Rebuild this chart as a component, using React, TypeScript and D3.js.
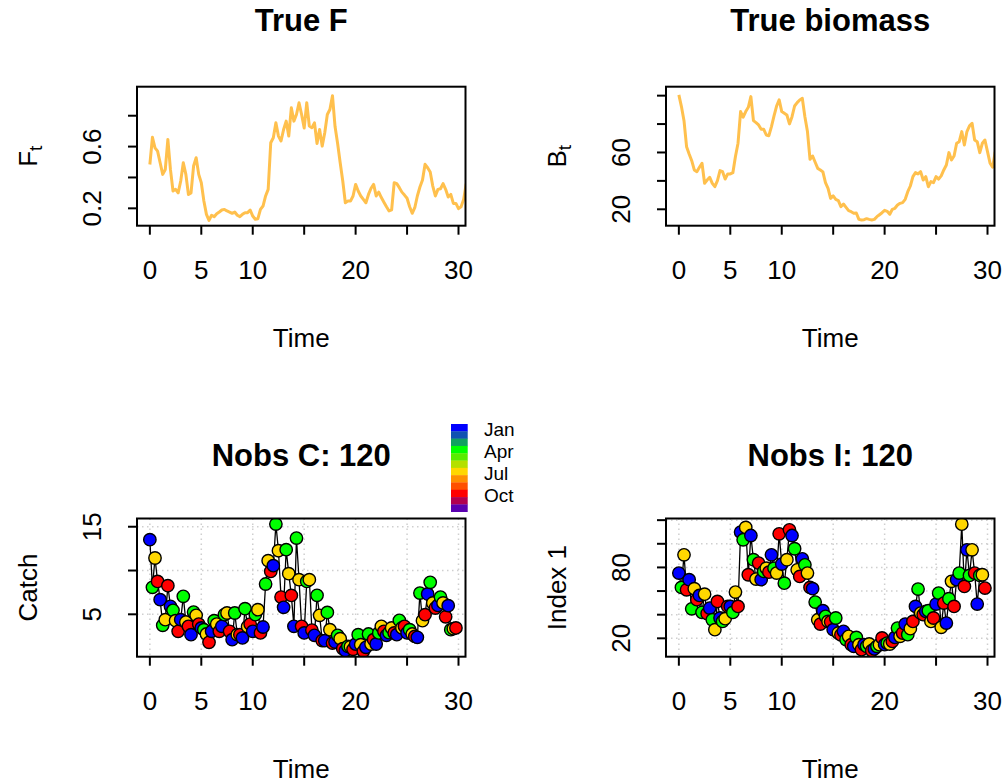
import React from "react";
import * as d3 from "d3";

// ---------------- data ----------------
const TRUE_STEP = 0.25; // time step of the true-value series
const trueF = [
  0.484, 0.66, 0.592, 0.571, 0.495, 0.42, 0.452, 0.646, 0.452, 0.312, 0.323, 0.3,
  0.377, 0.495, 0.42, 0.29, 0.3, 0.474, 0.528, 0.42, 0.366, 0.247, 0.161, 0.122,
  0.155, 0.146, 0.165, 0.176, 0.189, 0.193, 0.183, 0.176, 0.168, 0.176, 0.155, 0.146,
  0.161, 0.172, 0.172, 0.189, 0.15, 0.129, 0.133, 0.193, 0.215, 0.28, 0.323, 0.625,
  0.657, 0.754, 0.668, 0.636, 0.711, 0.765, 0.668, 0.851, 0.765, 0.808, 0.884, 0.808,
  0.72, 0.884, 0.733, 0.722, 0.754, 0.62, 0.711, 0.603, 0.69, 0.808, 0.84, 0.93,
  0.73, 0.62, 0.495, 0.377, 0.236, 0.247, 0.247, 0.28, 0.355, 0.312, 0.28, 0.258,
  0.236, 0.29, 0.33, 0.355, 0.28, 0.305, 0.27, 0.24, 0.21, 0.183, 0.19, 0.366,
  0.36, 0.334, 0.305, 0.286, 0.265, 0.21, 0.168, 0.204, 0.28, 0.338, 0.383, 0.485,
  0.463, 0.435, 0.344, 0.28, 0.323, 0.327, 0.36, 0.323, 0.273, 0.29, 0.232, 0.232,
  0.198, 0.21, 0.258, 0.36,
];
const trueB = [
  100.5, 92.3, 82.4, 64.1, 58.9, 54.2, 47.7, 46.5, 49.6, 52.4, 38.3, 40.6,
  42.5, 38.3, 35.9, 40.2, 47.2, 46.5, 41.3, 44.9, 44.9, 45.8, 57.1, 66.5,
  88.8, 84.8, 88.8, 91.8, 99.3, 82.4, 81.0, 79.4, 76.3, 76.3, 72.3, 71.8,
  78.2, 85.7, 92.7, 97.0, 88.8, 87.6, 86.4, 80.1, 85.2, 92.7, 95.1, 97.0,
  98.1, 85.2, 74.7, 55.2, 57.5, 53.1, 48.8, 47.7, 46.3, 38.8, 34.8, 27.7,
  29.4, 27.0, 26.1, 21.9, 23.7, 21.4, 19.0, 18.3, 17.2, 17.4, 12.9, 12.5,
  12.7, 13.4, 12.9, 12.5, 12.9, 14.8, 16.2, 17.6, 19.3, 18.6, 16.5, 20.0,
  20.7, 23.0, 24.2, 24.7, 27.0, 32.4, 36.4, 43.0, 45.8, 44.9, 46.5, 40.6,
  43.0, 35.9, 39.5, 38.8, 43.0, 41.3, 43.5, 47.7, 51.2, 59.9, 54.7, 57.5,
  66.5, 67.6, 74.7, 65.3, 74.7, 78.7, 80.5, 68.8, 67.6, 59.9, 66.5, 68.8,
  60.6, 52.4, 49.6, 60.6,
];

const OBS_STEP = 0.25; // quarterly observations
const obsCatch = [
  13.52, 8.08, 11.43, 8.76, 6.67, 3.74, 4.39, 8.27, 5.91, 5.45, 4.27, 3.06,
  4.39, 7.05, 4.12, 3.63, 2.68, 5.26, 4.88, 3.89, 3.44, 3.25, 2.75, 1.8,
  3.06, 4.27, 3.89, 3.06, 3.63, 4.96, 5.15, 3.06, 2.1, 5.15, 2.68, 2.68,
  2.3, 5.64, 3.6, 3.89, 3.06, 4.96, 5.53, 2.87, 3.55, 8.46, 11.12, 9.9,
  10.55, 15.31, 12.26, 6.97, 5.8, 12.38, 9.64, 7.16, 3.63, 13.71, 8.95, 3.63,
  2.87, 8.76, 8.95, 3.2, 2.6, 7.17, 4.88, 2.0, 1.99, 5.22, 3.25, 1.72,
  1.84, 2.6, 2.22, 1.08, 0.85, 1.34, 1.3, 1.0, 1.6, 2.68, 1.53, 0.77,
  1.23, 2.75, 1.61, 2.1, 1.61, 2.87, 3.63, 3.06, 2.6, 2.9, 3.44, 2.87,
  2.68, 4.31, 3.44, 3.63, 2.87, 3.25, 2.75, 2.48, 2.37, 7.43, 4.27, 4.96,
  7.32, 8.65, 6.29, 5.72, 6.02, 6.97, 6.3, 4.72, 5.99, 3.25, 3.36, 3.44,
];
const obsIndex = [
  75.2, 63.1, 90.7, 61.1, 69.6, 45.0, 62.0, 52.7, 56.3, 42.0, 57.4, 41.0,
  45.6, 35.7, 27.3, 51.2, 37.2, 34.3, 36.6, 47.0, 47.0, 41.9, 59.1, 47.0,
  109.9, 103.4, 113.8, 73.8, 107.0, 86.5, 70.1, 83.7, 69.6, 76.6, 79.4, 76.0,
  90.7, 79.4, 75.2, 108.4, 82.8, 66.7, 86.5, 111.8, 107.0, 95.8, 78.0, 72.4,
  87.3, 82.2, 75.2, 63.1, 62.0, 50.7, 35.7, 32.1, 43.4, 38.6, 34.3, 34.0,
  27.3, 37.2, 24.5, 23.0, 25.9, 19.0, 21.7, 14.6, 13.2, 20.8, 14.6, 10.4,
  14.6, 13.2, 15.2, 9.5, 11.0, 13.2, 14.6, 20.3, 14.6, 16.0, 15.2, 17.4,
  20.8, 28.7, 21.7, 24.5, 32.1, 23.1, 28.2, 34.3, 47.0, 61.7, 41.4, 40.0,
  42.8, 43.4, 34.3, 37.2, 49.0, 58.3, 29.3, 49.8, 32.9, 53.5, 68.2, 47.0,
  69.6, 75.2, 116.6, 63.9, 94.9, 73.2, 94.9, 75.2, 49.0, 73.2, 73.8, 62.5,
];

const monthColors = [
  "#0000FF", "#1052B2", "#10A060", "#00FF00", "#58EC00", "#B4E000",
  "#FFD700", "#FF9000", "#FF5000", "#FF0000", "#B00050", "#5A00B0",
];
const monthLabels = ["Jan", "Apr", "Jul", "Oct"];
const monthLabelIdx = [0, 3, 6, 9];

const xTicks = [0, 5, 10, 15, 20, 25, 30];
const xTickShown = [0, 5, 10, 20, 30];
const X_DOMAIN = [-1.25, 30.68];

const fTicks = [0.2, 0.4, 0.6, 0.8];
const fTickShown = [0.2, 0.6];
const F_DOMAIN = [0.0875, 0.988];
const bTicks = [20, 40, 60, 80, 100];
const bTickShown = [20, 60];
const B_DOMAIN = [8.45, 106.3];
const cTicks = [5, 10, 15];
const cTickShown = [5, 15];
const C_DOMAIN = [0.16, 15.94];
const iTicks = [20, 40, 60, 80, 100, 120];
const iTickShown = [20, 80];
const I_DOMAIN = [4.45, 121.4];

// ---------------- styling ----------------
const FONT = "'Liberation Sans', Arial, Helvetica, sans-serif";
const TICK_FS = 26;
const TITLE_FS = 31;
const TRUE_COL = "#FFC04D";
const GRID_COL = "#CFCFCF";

type Box = { l: number; r: number; t: number; b: number };

const boxTL: Box = { l: 137, r: 465.5, t: 86.7, b: 225.7 };
const boxTR: Box = { l: 666, r: 994.5, t: 86.7, b: 225.7 };
const boxBL: Box = { l: 137, r: 465.5, t: 518.5, b: 656.7 };
const boxBR: Box = { l: 666, r: 994.5, t: 518.5, b: 656.7 };

function Frame(props: {
  id: string;
  box: Box;
  yDomain: number[];
  yTicks: number[];
  yShown: number[];
  title: string;
  titleY: number;
  ylab: React.ReactNode;
  grid: boolean;
  children: (x: d3.ScaleLinear<number, number>, y: d3.ScaleLinear<number, number>) => React.ReactNode;
}) {
  const { id, box, yDomain, yTicks, yShown, title, titleY, ylab, grid } = props;
  const x = d3.scaleLinear().domain(X_DOMAIN).range([box.l, box.r]);
  const y = d3.scaleLinear().domain(yDomain).range([box.b, box.t]);
  const tick = 9;
  const cx = (box.l + box.r) / 2;
  const cy = (box.t + box.b) / 2;
  return (
    <g>
      <defs>
        <clipPath id={id}>
          <rect x={box.l} y={box.t} width={box.r - box.l} height={box.b - box.t} />
        </clipPath>
      </defs>
      {grid && (
        <g stroke={GRID_COL} strokeWidth={1.5} strokeDasharray="1.5 3.5">
          {xTicks.map((v) => (
            <line key={"gx" + v} x1={x(v)} x2={x(v)} y1={box.t} y2={box.b} />
          ))}
          {yTicks.map((v) => (
            <line key={"gy" + v} x1={box.l} x2={box.r} y1={y(v)} y2={y(v)} />
          ))}
        </g>
      )}
      <g clipPath={`url(#${id})`}>{props.children(x, y)}</g>
      <rect x={box.l} y={box.t} width={box.r - box.l} height={box.b - box.t} fill="none" stroke="#000" strokeWidth={2} />
      <g stroke="#000" strokeWidth={2}>
        {xTicks.map((v) => (
          <line key={"tx" + v} x1={x(v)} x2={x(v)} y1={box.b} y2={box.b + tick} />
        ))}
        {yTicks.map((v) => (
          <line key={"ty" + v} x1={box.l - tick} x2={box.l} y1={y(v)} y2={y(v)} />
        ))}
      </g>
      <g fontFamily={FONT} fontSize={TICK_FS} fill="#000">
        {xTickShown.map((v) => (
          <text key={"lx" + v} x={x(v)} y={box.b + 44.5} textAnchor="middle" dominantBaseline="central">
            {v}
          </text>
        ))}
        {yShown.map((v) => (
          <text
            key={"ly" + v}
            transform={`translate(${box.l - 45},${y(v)}) rotate(-90)`}
            textAnchor="middle"
            dominantBaseline="central"
          >
            {v}
          </text>
        ))}
        <text x={cx} y={box.b + 112} textAnchor="middle" dominantBaseline="central">
          Time
        </text>
        <text transform={`translate(${box.l - 109},${cy}) rotate(-90)`} textAnchor="middle" dominantBaseline="central">
          {ylab}
        </text>
      </g>
      <text
        x={cx}
        y={titleY}
        fontFamily={FONT}
        fontSize={TITLE_FS}
        fontWeight="bold"
        textAnchor="middle"
        dominantBaseline="central"
      >
        {title}
      </text>
    </g>
  );
}

function TrueLine(props: { values: number[]; x: any; y: any }) {
  const line = d3
    .line<number>()
    .x((_, i) => props.x(i * TRUE_STEP))
    .y((d) => props.y(d));
  return <path d={line(props.values) || ""} fill="none" stroke={TRUE_COL} strokeWidth={3} strokeLinejoin="round" />;
}

function ObsPoints(props: { values: number[]; x: any; y: any }) {
  const { values, x, y } = props;
  const line = d3
    .line<number>()
    .x((_, i) => x(i * OBS_STEP))
    .y((d) => y(d));
  return (
    <g>
      <path d={line(values) || ""} fill="none" stroke="#000" strokeWidth={1.3} />
      {values.map((v, i) => {
        const month = Math.round(((i * OBS_STEP) % 1) * 12);
        return (
          <circle
            key={i}
            cx={x(i * OBS_STEP)}
            cy={y(v)}
            r={6.2}
            fill={monthColors[month]}
            stroke="#000"
            strokeWidth={1.4}
          />
        );
      })}
    </g>
  );
}

function ColorBar() {
  const top = 424;
  const bottom = 511.7;
  const left = 451;
  const w = 16.7;
  const sc = d3.scaleBand<number>().domain(d3.range(monthColors.length)).range([top, bottom]);
  return (
    <g>
      {monthColors.map((c, i) => (
        <rect key={i} x={left} y={sc(i)} width={w} height={sc.bandwidth() + 0.3} fill={c} />
      ))}
      {monthLabels.map((m, k) => (
        <text
          key={m}
          x={484}
          y={(sc(monthLabelIdx[k]) as number) + sc.bandwidth() / 2 + 2}
          fontFamily={FONT}
          fontSize={19}
          dominantBaseline="central"
        >
          {m}
        </text>
      ))}
    </g>
  );
}

function Sub(props: { main: string; sub: string }) {
  return (
    <>
      <tspan>{props.main}</tspan>
      <tspan fontSize={19} dy={7}>
        {props.sub}
      </tspan>
    </>
  );
}

export default function App() {
  return (
    <div style={{ position: "absolute", left: 0, top: 0, width: 1004, height: 784, overflow: "hidden", background: "#fff" }}>
      <svg width={1004} height={784} viewBox="0 0 1004 784">
        <rect width={1004} height={784} fill="#fff" />
        <Frame
          id="cTL"
          box={boxTL}
          yDomain={F_DOMAIN}
          yTicks={fTicks}
          yShown={fTickShown}
          title="True F"
          titleY={20}
          ylab={<Sub main="F" sub="t" />}
          grid={false}
        >
          {(x, y) => <TrueLine values={trueF} x={x} y={y} />}
        </Frame>
        <Frame
          id="cTR"
          box={boxTR}
          yDomain={B_DOMAIN}
          yTicks={bTicks}
          yShown={bTickShown}
          title="True biomass"
          titleY={20}
          ylab={<Sub main="B" sub="t" />}
          grid={false}
        >
          {(x, y) => <TrueLine values={trueB} x={x} y={y} />}
        </Frame>
        <Frame
          id="cBL"
          box={boxBL}
          yDomain={C_DOMAIN}
          yTicks={cTicks}
          yShown={cTickShown}
          title="Nobs C: 120"
          titleY={455}
          ylab="Catch"
          grid={true}
        >
          {(x, y) => <ObsPoints values={obsCatch} x={x} y={y} />}
        </Frame>
        <Frame
          id="cBR"
          box={boxBR}
          yDomain={I_DOMAIN}
          yTicks={iTicks}
          yShown={iTickShown}
          title="Nobs I: 120"
          titleY={455}
          ylab="Index 1"
          grid={true}
        >
          {(x, y) => <ObsPoints values={obsIndex} x={x} y={y} />}
        </Frame>
        <ColorBar />
      </svg>
    </div>
  );
}
